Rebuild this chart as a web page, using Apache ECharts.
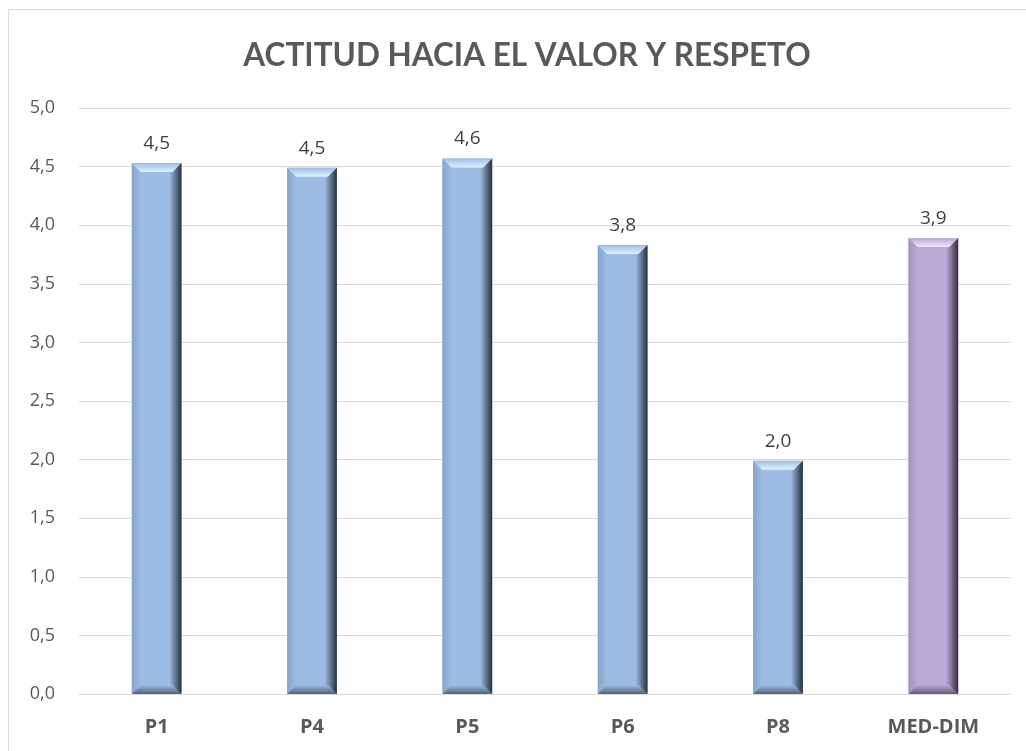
<!DOCTYPE html>
<html>
<head>
<meta charset="utf-8">
<script src="https://cdn.jsdelivr.net/npm/echarts@6/dist/echarts.min.js"></script>
<style>
  html, body { margin: 0; padding: 0; background: #fff; }
  #chart { width: 1026px; height: 751px; }
</style>
</head>
<body>
<div id="chart"></div>
<script>
const categories = ['P1', 'P4', 'P5', 'P6', 'P8', 'MED-DIM'];
const values = [4.53, 4.49, 4.57, 3.83, 1.99, 3.89];
const yTicks = { min: 0, max: 5, interval: 0.5 };

// bevel palettes: blue for the items, purple for the dimension mean
const blue = { face: '#9dbbe3', top: '#e2f3ff', left: '#87a3ca', right: '#26303c', bottom: '#4f627c' };
const purple = { face: '#baa9d4', top: '#f5e6ff', left: '#a391c0', right: '#332c3e', bottom: '#66597a' };
const bevel = 9;

function grad(x, y, x2, y2, a, b) {
  return new echarts.graphic.LinearGradient(x, y, x2, y2, [
    { offset: 0, color: a }, { offset: 1, color: b },
  ]);
}

function renderBar(params, api) {
  const idx = api.value(0);
  const top = api.coord([idx, api.value(1)]);
  const base = api.coord([idx, 0]);
  const w = api.size([1, 0])[0] * 0.32;
  const p = idx === categories.length - 1 ? purple : blue;
  const x0 = top[0] - w / 2, x1 = top[0] + w / 2;
  const y0 = top[1], y1 = base[1];
  const b = Math.min(bevel, (y1 - y0) / 2);
  return {
    type: 'group',
    children: [
      { type: 'rect', shape: { x: x0, y: y0, width: w, height: y1 - y0 }, style: { fill: p.face } },
      { type: 'polygon', shape: { points: [[x0, y0], [x0 + b, y0 + b], [x0 + b, y1 - b], [x0, y1]] },
        style: { fill: grad(0, 0, 1, 0, p.left, p.face) } },
      { type: 'polygon', shape: { points: [[x1, y0], [x1, y1], [x1 - b - 3, y1 - b], [x1 - b - 3, y0 + b]] },
        style: { fill: grad(0, 0, 1, 0, p.face, p.right) } },
      { type: 'polygon', shape: { points: [[x0, y1], [x1, y1], [x1 - b, y1 - b], [x0 + b, y1 - b]] },
        style: { fill: grad(0, 0, 0, 1, p.face, p.bottom) } },
      { type: 'polygon', shape: { points: [[x0, y0], [x1, y0], [x1 - b, y0 + b], [x0 + b, y0 + b]] },
        style: { fill: grad(0, 0, 0, 1, p.face, p.top) } },
    ],
  };
}

const chart = echarts.init(document.getElementById('chart'));
chart.setOption({
  animation: false,
  title: {
    text: 'ACTITUD HACIA EL VALOR Y RESPETO',
    left: 522,
    textAlign: 'center',
    top: 35,
    textStyle: { fontFamily: 'Lato', fontWeight: 'bold', fontSize: 31.5, color: '#595959' },
  },
  graphic: [{
    type: 'rect',
    shape: { x: 8.5, y: 9.5, width: 1100, height: 800 },
    style: { fill: 'none', stroke: '#d9d9d9', lineWidth: 1 },
  }],
  grid: { left: 79, right: 15, top: 108, bottom: 57 },
  xAxis: {
    type: 'category',
    data: categories,
    axisLine: { lineStyle: { color: '#d9d9d9' } },
    axisTick: { show: false },
    axisLabel: { color: '#595959', fontFamily: 'Open Sans', fontWeight: 'bold', fontSize: 20, margin: 23 },
  },
  yAxis: {
    type: 'value',
    min: yTicks.min,
    max: yTicks.max,
    interval: yTicks.interval,
    axisLine: { show: false },
    axisTick: { show: false },
    splitLine: { lineStyle: { color: '#d9d9d9' } },
    axisLabel: {
      color: '#595959', fontFamily: 'Open Sans', fontSize: 18, margin: 24,
      formatter: v => v.toFixed(1).replace('.', ','),
    },
  },
  series: [{
    type: 'custom',
    renderItem: renderBar,
    data: values.map((v, i) => [i, v]),
    encode: { x: 0, y: 1 },
    z: 2,
  }, {
    type: 'bar',
    data: values,
    barWidth: '32%',
    barGap: '-100%',
    itemStyle: { color: 'rgba(0,0,0,0)' },
    z: 3,
    label: {
      show: true,
      position: 'top',
      distance: 10,
      color: '#404040',
      fontFamily: 'Open Sans',
      fontSize: 19,
      formatter: p => p.value.toFixed(1).replace('.', ','),
    },
  }],
});
</script>
</body>
</html>
